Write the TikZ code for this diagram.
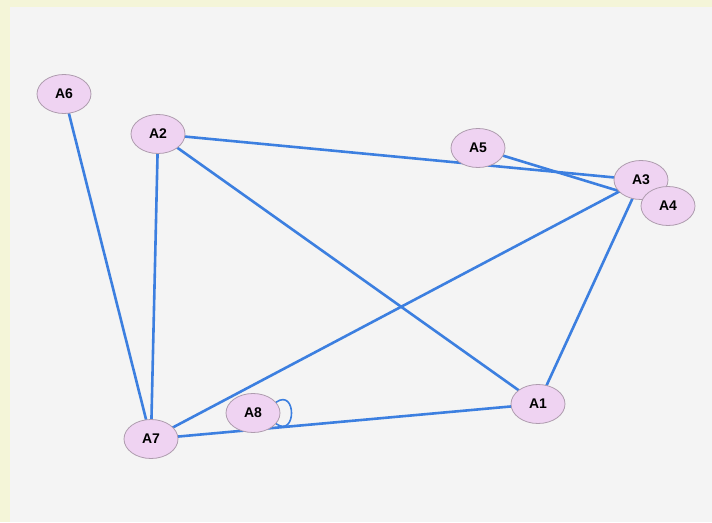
\documentclass[tikz,border=0pt]{standalone}
\usepackage{fontspec}
\setmainfont{Liberation Sans}
\usetikzlibrary{arrows.meta, positioning, shapes, backgrounds}

\definecolor{frame}{HTML}{F4F5D8}
\definecolor{panel}{HTML}{F4F4F4}
\definecolor{lilac}{HTML}{EFD3F2}
\definecolor{rim}{HTML}{AE9CAE}
\definecolor{link}{HTML}{3C7FE0}

\begin{document}
\begin{tikzpicture}[x=1pt, y=-1pt,
    node style/.style={ellipse, draw=rim, line width=0.8pt, fill=lilac, minimum width=54pt, minimum height=39pt, inner sep=1pt, font=\fontsize{14}{16}\selectfont\bfseries},
    link style/.style={draw=link, line width=2.6pt}
]
\useasboundingbox (0,0) rectangle (712,522);

\node[node style] (A6) at (64,94) {A6};
\node[node style] (A2) at (158,134) {A2};
\node[node style] (A5) at (478,148) {A5};
\node[node style] (A3) at (641,180) {A3};
\node[node style] (A4) at (668,206) {A4};
\node[node style] (A1) at (538,404) {A1};
\node[node style] (A8) at (253,413) {A8};
\node[node style] (A7) at (151,439) {A7};

\begin{pgfonlayer}{background}
\fill[frame] (0,0) rectangle (712,522);
\fill[panel] (10,7) rectangle (712,522);
\draw[link style] (A6.center) -- (A7.center);
\draw[link style] (A2.center) -- (A7.center);
\draw[link style] (A2.center) -- (A1.center);
\draw[link style] (A2.center) -- (A3.center);
\draw[link style] (A5.center) -- (A4.center);
\draw[link style] (A3.center) -- (A7.center);
\draw[link style] (A3.center) -- (A1.center);
\draw[link style] (A7.center) -- (A1.center);
\end{pgfonlayer}

\draw[draw=link, line width=1.6pt] (A8.25) to[out=35, in=-35, looseness=3] (A8.-25);
\end{tikzpicture}
\end{document}
